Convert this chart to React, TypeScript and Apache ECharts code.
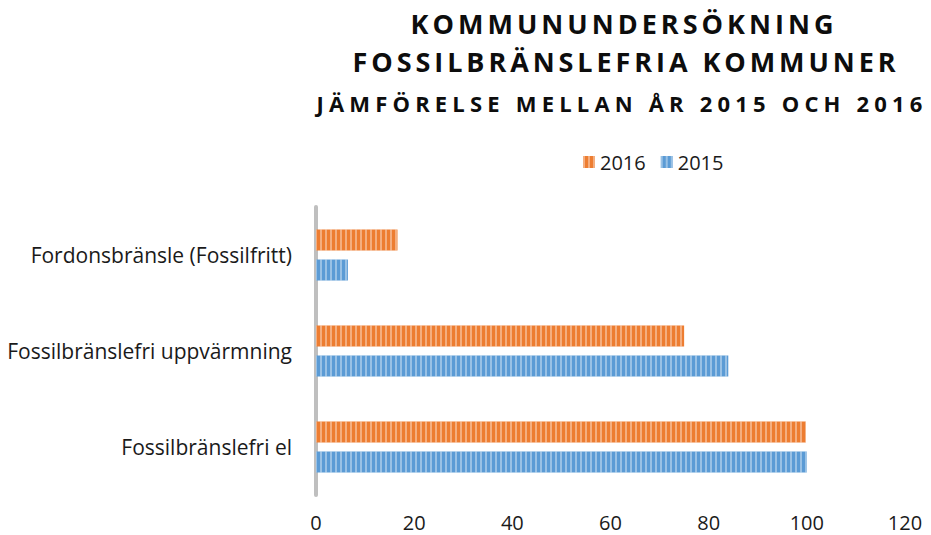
import React, { useEffect, useRef } from "react";
import * as echarts from "echarts";

const categories = [
  "Fossilbränslefri el",
  "Fossilbränslefri uppvärmning",
  "Fordonsbränsle (Fossilfritt)",
];
const values2015 = [100, 84, 6.5];
const values2016 = [99.8, 75, 16.6];
const xTicks = { min: 0, max: 120, interval: 20 };
const titleLines = [
  "KOMMUNUNDERSÖKNING",
  "FOSSILBRÄNSLEFRIA KOMMUNER",
  "JÄMFÖRELSE MELLAN ÅR 2015 OCH 2016",
];
const titleWidths = [423, 543, 606];

const FONT = "'Open Sans', 'Liberation Sans', sans-serif";

export default function App() {
  const ref = useRef<HTMLDivElement>(null);
  useEffect(() => {
    if (!ref.current) return;
    const chart = echarts.init(ref.current, undefined, { renderer: "svg" });
    const stripe = (c: string) => ({
      symbol: "rect",
      symbolSize: 1,
      dashArrayX: [1.4, 2.3],
      dashArrayY: [4, 0],
      color: c,
      rotation: 0,
    });
    chart.setOption({
      animation: false,
      textStyle: { fontFamily: FONT },
      graphic: [
        {
          type: "text",
          x: 624,
          y: 23,
          style: {
            text: titleLines[0],
            font: `bold 27px ${FONT}`,
            fill: "#0d0d0d",
            textAlign: "center",
            textVerticalAlign: "middle",
          },
        },
        {
          type: "text",
          x: 626,
          y: 61,
          style: {
            text: titleLines[1],
            font: `bold 27px ${FONT}`,
            fill: "#0d0d0d",
            textAlign: "center",
            textVerticalAlign: "middle",
          },
        },
        {
          type: "text",
          x: 622,
          y: 103,
          style: {
            text: titleLines[2],
            font: `bold 22px ${FONT}`,
            fill: "#0d0d0d",
            textAlign: "center",
            textVerticalAlign: "middle",
          },
        },
      ],
      legend: {
        data: ["2016", "2015"],
        left: 583,
        top: 152,
        padding: 0,
        itemWidth: 12,
        itemHeight: 12,
        itemGap: 15,
        icon: "rect",
        textStyle: { fontSize: 20, color: "#1a1a1a", fontFamily: FONT },
      },
      grid: {
        left: 316,
        right: 26,
        top: 207,
        bottom: 40,
        containLabel: false,
        outerBoundsMode: "none",
      },
      xAxis: {
        type: "value",
        min: xTicks.min,
        max: xTicks.max,
        interval: xTicks.interval,
        axisLine: { show: false },
        axisTick: { show: false },
        splitLine: { show: false },
        axisLabel: { fontSize: 20, color: "#1a1a1a", margin: 17, fontFamily: FONT },
      },
      yAxis: {
        type: "category",
        data: categories,
        axisLine: { show: true, lineStyle: { color: "#BFBFBF", width: 4 } },
        axisTick: { show: false },
        axisLabel: { fontSize: 21, color: "#1a1a1a", margin: 24, fontFamily: FONT },
      },
      series: [
        {
          name: "2016",
          type: "bar",
          data: values2016,
          barWidth: 21,
          barGap: "43%",
          itemStyle: { color: "#ED7D31", decal: stripe("rgba(255,255,255,0.38)") },
        },
        {
          name: "2015",
          type: "bar",
          data: values2015,
          barWidth: 21,
          barGap: "43%",
          itemStyle: { color: "#5B9BD5", decal: stripe("rgba(255,255,255,0.38)") },
        },
      ],
    });
    const svg = ref.current.querySelector("svg");
    if (svg) {
      svg.querySelectorAll("text").forEach((t) => {
        const txt = t.textContent || "";
        const idx = titleLines.indexOf(txt);
        if (idx >= 0) {
          const len = (t as SVGTextElement).getComputedTextLength();
          const ls = (titleWidths[idx] - len) / (txt.length - 1);
          if (ls > 0) t.setAttribute("letter-spacing", String(ls));
        }
      });
    }
    return () => chart.dispose();
  }, []);
  return <div ref={ref} style={{ width: 931, height: 535, position: "absolute", left: 0, top: 0 }} />;
}
